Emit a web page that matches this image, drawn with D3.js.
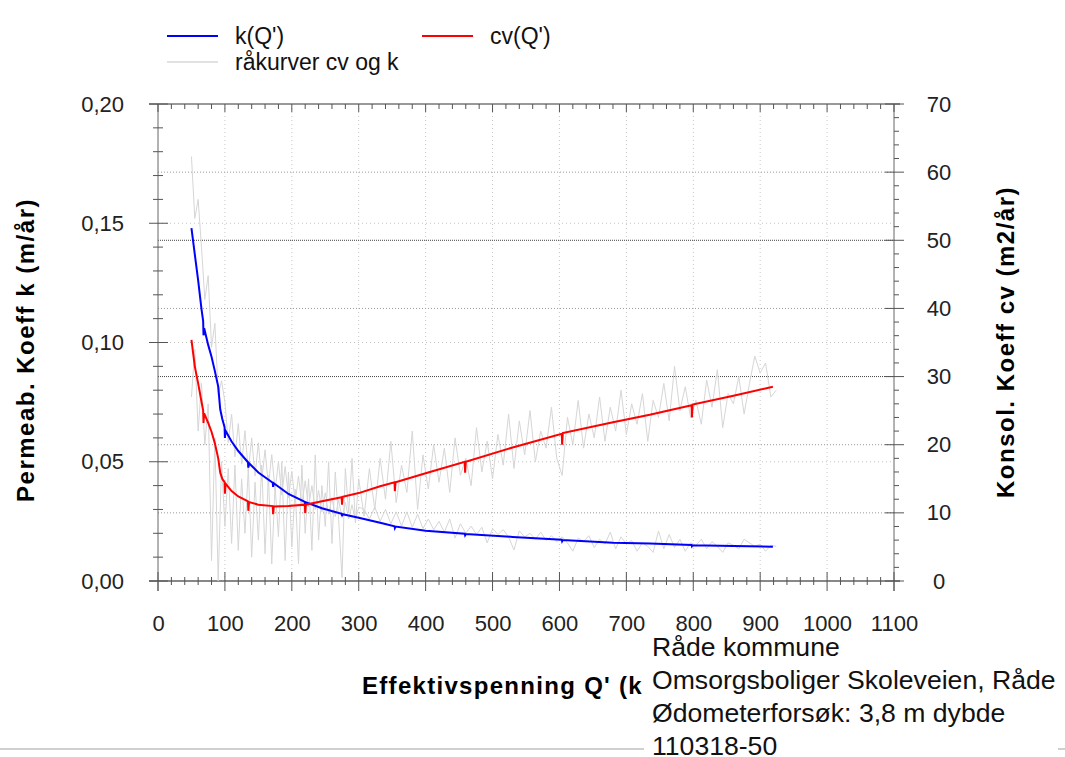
<!DOCTYPE html>
<html>
<head>
<meta charset="utf-8">
<script src="https://cdn.jsdelivr.net/npm/d3@7"></script>
<style>
  body { margin: 0; background: #fff; }
  svg { display: block; font-family: "Liberation Sans", Arial, sans-serif; }
</style>
</head>
<body>
<svg id="chart"></svg>
<script>
const width = 1065, height = 757;

// Fitted curves: effective stress Q' (kPa), k (m/år) and cv (m2/år)
const fitQ = [50, 55, 60, 65, 67.5, 68, 69, 75, 80, 85, 90, 93, 96, 99.5, 100, 101, 110, 120,
  134.5, 135, 136, 150, 171.5, 172, 173, 195, 219.5, 220, 221, 245, 274.5, 275, 276, 300, 332,
  353.5, 354, 355, 400, 458.5, 459, 460, 530, 603.5, 604, 605, 680, 735, 797.5, 798, 799, 860, 919];
const kFit = [0.148, 0.137, 0.126, 0.114, 0.109, 0.103, 0.106, 0.099, 0.094, 0.088, 0.0815, 0.072, 0.068, 0.0645, 0.060, 0.063, 0.0585, 0.0545,
  0.0498, 0.0475, 0.0494, 0.0455, 0.0412, 0.0395, 0.041, 0.0365, 0.0332, 0.0318, 0.033, 0.0305, 0.0282, 0.0272, 0.028, 0.0265, 0.0244,
  0.0229, 0.0222, 0.0228, 0.0211, 0.0198, 0.0192, 0.0197, 0.0185, 0.0173, 0.0167, 0.0172, 0.0160, 0.0157, 0.0151, 0.0146, 0.0150, 0.0147, 0.0144];
const cvFit = [35.4, 31.5, 29.0, 26.3, 25.0, 23.2, 24.6, 23.2, 21.9, 20.2, 18.0, 15.9, 15.0, 14.5, 12.8, 14.3, 13.2, 12.4,
  11.7, 10.3, 11.6, 11.2, 11.0, 9.8, 10.95, 11.0, 11.2, 10.0, 11.2, 11.7, 12.3, 11.2, 12.35, 12.9, 13.9,
  14.5, 13.2, 14.5, 15.8, 17.5, 15.9, 17.5, 19.6, 21.6, 20.0, 21.7, 23.3, 24.4, 25.8, 24.0, 25.9, 27.2, 28.5];

// Raw curves ("råkurver")
const rawQ = [50, 55, 60, 65, 70, 75, 80, 85, 90, 95, 100, 105, 110, 115, 120, 125, 130, 135, 140, 145,
  150, 155, 160, 165, 170, 175, 180, 185, 190, 195, 200, 205, 210, 215, 220, 225, 230, 235, 240, 245,
  250, 255, 260, 265, 270, 275, 280, 285, 290, 295, 300,
  308, 316, 324, 332, 340, 348, 356, 364, 372, 380, 388, 396, 404, 412, 420, 428, 436, 444, 452, 460,
  468, 476, 484, 492, 500, 508, 516, 524, 532, 540, 548, 556, 564, 572, 580, 588, 596, 604, 612, 620,
  628, 636, 644, 652, 660, 668, 676, 684, 692, 700, 708, 716, 724, 732, 740, 748, 756, 764, 772, 780,
  788, 796, 804, 812, 820, 828, 836, 844, 852, 860, 868, 876, 884, 892, 900, 908, 916, 924];
const kRaw = [0.178, 0.152, 0.160, 0.140, 0.118, 0.128, 0.098, 0.108, 0.078, 0.084, 0.075, 0.058, 0.070, 0.052, 0.066, 0.049, 0.063, 0.046, 0.060, 0.044,
  0.058, 0.042, 0.055, 0.040, 0.053, 0.038, 0.050, 0.036, 0.048, 0.035, 0.046, 0.033, 0.044, 0.032, 0.042, 0.031, 0.040, 0.030, 0.038, 0.029,
  0.037, 0.028, 0.035, 0.027, 0.034, 0.0265, 0.033, 0.026, 0.032, 0.0255, 0.031,
  0.030, 0.026, 0.031, 0.025, 0.030, 0.024, 0.029, 0.023, 0.029, 0.0225, 0.028, 0.022, 0.026, 0.0215, 0.025, 0.0205, 0.026, 0.018, 0.024, 0.020,
  0.023, 0.0195, 0.0225, 0.016, 0.022, 0.0195, 0.0215, 0.0185, 0.013, 0.021, 0.0185, 0.020, 0.0175, 0.0205, 0.017, 0.019, 0.0165, 0.0185, 0.016, 0.0125,
  0.018, 0.0165, 0.019, 0.014, 0.0175, 0.0155, 0.0205, 0.0135, 0.0185, 0.0155, 0.017, 0.0125, 0.016, 0.0145, 0.012, 0.021, 0.0135, 0.0195, 0.014, 0.0175,
  0.0125, 0.016, 0.015, 0.0175, 0.0135, 0.0165, 0.0145, 0.012, 0.016, 0.015, 0.0135, 0.0175, 0.016, 0.0145, 0.0155, 0.0125, 0.015, 0.0145];
const cvRaw = [27.0, 34.0, 22.0, 29.0, 20.0, 26.0, 3.0, 21.0, 0.0, 17.5, 8.0, 16.5, 5.5, 17.0, 4.5, 15.0, 7.0, 16.5, 3.5, 14.5,
  6.0, 17.0, 4.0, 15.5, 2.5, 14.0, 6.5, 17.5, 3.0, 16.0, 5.0, 13.5, 2.5, 17.0, 7.0, 15.0, 4.5, 18.5, 6.0, 14.0,
  8.0, 17.5, 5.5, 16.0, 9.0, 0.5, 16.5, 10.0, 18.0, 8.5, 15.0,
  9.5, 16.5, 10.5, 18.0, 12.0, 20.5, 11.5, 17.0, 13.0, 22.0, 10.5, 18.5, 13.5, 20.0, 14.5, 19.5, 13.0, 21.0, 15.5, 18.0,
  14.0, 22.5, 16.0, 20.5, 15.0, 21.5, 17.0, 24.5, 16.5, 23.5, 18.5, 25.0, 17.5, 22.0, 19.5, 25.5, 18.0, 15.5, 24.0, 20.0,
  26.5, 19.5, 24.5, 21.0, 27.0, 20.5, 25.5, 22.0, 28.0, 21.5, 26.0, 23.0, 27.5, 20.5, 26.5, 24.0, 29.0, 23.5, 31.5, 25.0,
  28.5, 24.0, 26.5, 23.0, 29.5, 25.5, 31.0, 22.5, 27.5, 26.0, 30.0, 24.5, 29.0, 33.0, 30.5, 32.0, 27.0, 28.0];

// Axis ticks and labels
const xMajor = [0, 100, 200, 300, 400, 500, 600, 700, 800, 900, 1000, 1100];
const kMajor = [0, 0.05, 0.10, 0.15, 0.20];
const cvMajor = [0, 10, 20, 30, 40, 50, 60, 70];

const legendItems = ["k(Q')", "cv(Q')", "råkurver cv og k"];
const infoLines = ["Råde kommune", "Omsorgsboliger Skoleveien, Råde", "Ødometerforsøk: 3,8 m dybde", "110318-50"];

const plot = { left: 158, right: 894, top: 104, bottom: 581 };

const svg = d3.select("#chart").attr("width", width).attr("height", height);

const x = d3.scaleLinear().domain([0, 1100]).range([plot.left, plot.right]);
const yK = d3.scaleLinear().domain([0, 0.2]).range([plot.bottom, plot.top]);
const yCv = d3.scaleLinear().domain([0, 70]).range([plot.bottom, plot.top]);

// Gridlines
const grid = svg.append("g");
grid.selectAll(".vgrid").data(xMajor.slice(1, -1)).join("line")
  .attr("x1", d => x(d)).attr("x2", d => x(d))
  .attr("y1", plot.top).attr("y2", plot.bottom)
  .attr("stroke", "#c8c8c8").attr("stroke-dasharray", "1,3");
grid.selectAll(".kgrid").data(kMajor.slice(1, -1)).join("line")
  .attr("x1", plot.left).attr("x2", plot.right)
  .attr("y1", d => yK(d)).attr("y2", d => yK(d))
  .attr("stroke", "#c4c4c4").attr("stroke-dasharray", "1,3");
grid.selectAll(".cvgrid").data(cvMajor.slice(1, -1)).join("line")
  .attr("x1", plot.left).attr("x2", plot.right)
  .attr("y1", d => yCv(d)).attr("y2", d => yCv(d))
  .attr("stroke", d => (d === 30 || d === 50) ? "#444" : "#9a9a9a")
  .attr("stroke-dasharray", d => (d === 30 || d === 50) ? "1,1" : "1,2");

// Frame lines
const axisColor = "#666";
const frame = svg.append("g").attr("stroke", axisColor);
frame.append("line").attr("x1", 149).attr("x2", 900).attr("y1", plot.top).attr("y2", plot.top).attr("stroke", "#999").attr("stroke-width", 2);
frame.append("line").attr("x1", 149).attr("x2", 900).attr("y1", plot.bottom).attr("y2", plot.bottom).attr("stroke", "#888").attr("stroke-width", 2);
frame.append("line").attr("x1", plot.left).attr("x2", plot.left).attr("y1", plot.top).attr("y2", 591);
frame.append("line").attr("x1", plot.right).attr("x2", plot.right).attr("y1", plot.top).attr("y2", 591);

// Tick marks
const ticks = svg.append("g").attr("stroke", "#555");
const xMinor = d3.range(0, 1101, 20);
ticks.selectAll(".bt").data(xMinor).join("line")
  .attr("x1", d => x(d)).attr("x2", d => x(d))
  .attr("y1", d => d % 100 === 0 ? 572 : 577).attr("y2", d => d % 100 === 0 ? 591 : 585);
ticks.selectAll(".tt").data(xMinor).join("line")
  .attr("x1", d => x(d)).attr("x2", d => x(d))
  .attr("y1", plot.top).attr("y2", d => d % 100 === 0 ? 112 : 109);
const kMinor = d3.range(0, 21).map(d => d / 100);
ticks.selectAll(".lt").data(kMinor).join("line")
  .attr("y1", d => yK(d)).attr("y2", d => yK(d))
  .attr("x1", (d, i) => i % 5 === 0 ? 149 : 153).attr("x2", (d, i) => i % 5 === 0 ? 168 : 163);
const cvMinor = d3.range(0, 71, 2);
ticks.selectAll(".rt").data(cvMinor).join("line")
  .attr("y1", d => yCv(d)).attr("y2", d => yCv(d))
  .attr("x1", d => d % 10 === 0 ? 885 : plot.right).attr("x2", d => d % 10 === 0 ? 904 : 899);

// Axis labels via d3 axes
const labelFont = 22, labelColor = "#222";
const leftAxis = svg.append("g").attr("transform", `translate(${plot.left},0)`)
  .call(d3.axisLeft(yK).tickValues(kMajor).tickSize(0).tickPadding(34)
    .tickFormat(d => d.toFixed(2).replace(".", ",")));
const bottomAxis = svg.append("g").attr("transform", `translate(0,${plot.bottom})`)
  .call(d3.axisBottom(x).tickValues(xMajor).tickSize(0).tickPadding(34).tickFormat(d => d));
const rightAxis = svg.append("g").attr("transform", `translate(${plot.right},0)`)
  .call(d3.axisRight(yCv).tickValues(cvMajor).tickSize(0).tickPadding(45).tickFormat(d => d));
rightAxis.selectAll("text").attr("text-anchor", "middle");
[leftAxis, bottomAxis, rightAxis].forEach(a => {
  a.select(".domain").remove();
  a.selectAll("text").attr("font-size", labelFont).attr("fill", labelColor)
    .attr("font-family", "'Liberation Sans', Arial, sans-serif");
});

// Curves
const lineK = d3.line().x(d => x(d[0])).y(d => yK(d[1]));
const lineCv = d3.line().x(d => x(d[0])).y(d => yCv(d[1]));
const curves = svg.append("g").attr("fill", "none");
curves.append("path").attr("d", lineK(d3.zip(rawQ, kRaw)))
  .attr("stroke", "#d6d6d6").attr("stroke-width", 1);
curves.append("path").attr("d", lineCv(d3.zip(rawQ, cvRaw)))
  .attr("stroke", "#d6d6d6").attr("stroke-width", 1);
curves.append("path").attr("d", lineK(d3.zip(fitQ, kFit)))
  .attr("stroke", "#0000ff").attr("stroke-width", 2);
curves.append("path").attr("d", lineCv(d3.zip(fitQ, cvFit)))
  .attr("stroke", "#ff0000").attr("stroke-width", 2);

// Legend
const legend = svg.append("g").attr("font-size", 23).attr("fill", "#111");
const legendPos = [[167, 36, "#0000ff"], [422, 36, "#ff0000"], [167, 62, "#e2e2e2"]];
legendItems.forEach((t, i) => {
  const [lx, ly, c] = legendPos[i];
  legend.append("line").attr("x1", lx).attr("x2", lx + 51).attr("y1", ly).attr("y2", ly)
    .attr("stroke", c).attr("stroke-width", 2);
  legend.append("text").attr("x", lx + 68).attr("y", ly + 8).text(t);
});

// Axis titles
svg.append("text")
  .attr("transform", "translate(25,350) rotate(-90)")
  .attr("text-anchor", "middle").attr("dominant-baseline", "central")
  .attr("font-size", 24).attr("font-weight", "bold").attr("letter-spacing", 1.5)
  .text("Permeab. Koeff k (m/år)");
svg.append("text")
  .attr("transform", "translate(1005,342) rotate(-90)")
  .attr("text-anchor", "middle").attr("dominant-baseline", "central")
  .attr("font-size", 24).attr("font-weight", "bold").attr("letter-spacing", 1.5)
  .text("Konsol. Koeff cv (m2/år)");
svg.append("text")
  .attr("x", 362).attr("y", 694)
  .attr("font-size", 24).attr("font-weight", "bold").attr("letter-spacing", 1.3)
  .text("Effektivspenning Q' (kPa)");

// Bottom border line and info block
svg.append("line").attr("x1", 0).attr("x2", width).attr("y1", 749).attr("y2", 749)
  .attr("stroke", "#d0d0d0").attr("stroke-width", 2);
svg.append("rect").attr("x", 644).attr("y", 633).attr("width", 414).attr("height", 124).attr("fill", "#fff");
const info = svg.append("g").attr("font-size", 26.6).attr("fill", "#111");
infoLines.forEach((t, i) => {
  info.append("text").attr("x", 652).attr("y", 656 + i * 33).text(t);
});
</script>
</body>
</html>
